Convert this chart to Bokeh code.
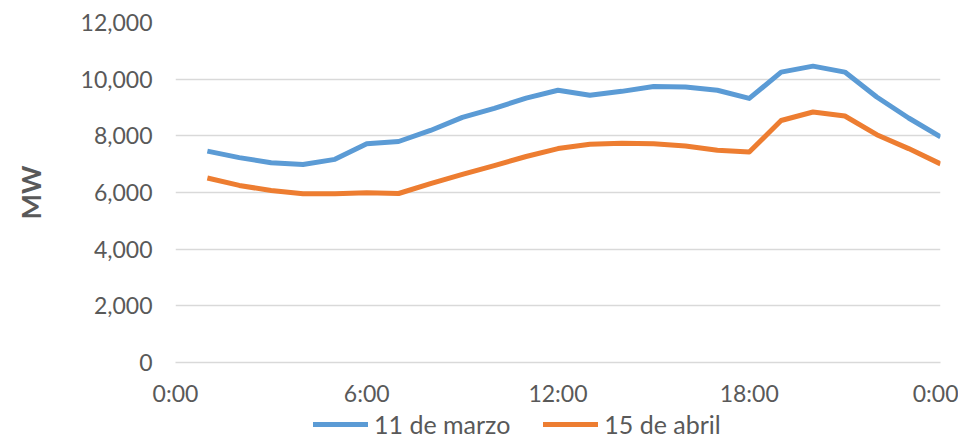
from bokeh.plotting import figure
from bokeh.layouts import column
from bokeh.models import (ColumnDataSource, FixedTicker, NumeralTickFormatter,
                          Legend, LegendItem, Range1d)
from bokeh.embed import file_html
from bokeh.resources import INLINE

hours = list(range(1, 25))
marzo_11 = [7460, 7230, 7050, 6990, 7170, 7720, 7800, 8190, 8650, 8970, 9330, 9610,
            9430, 9570, 9740, 9720, 9610, 9320, 10250, 10460, 10250, 9370, 8630, 7960]
abril_15 = [6510, 6250, 6070, 5955, 5955, 5990, 5965, 6310, 6640, 6950, 7270, 7550,
            7700, 7740, 7720, 7640, 7490, 7430, 8540, 8840, 8700, 8040, 7550, 7010]
x_ticks = [0, 6, 12, 18, 24]
x_tick_labels = ["0:00", "6:00", "12:00", "18:00", "0:00"]
y_ticks = [0, 2000, 4000, 6000, 8000, 10000, 12000]
series_names = ["11 de marzo", "15 de abril"]
colors = ["#5B9BD5", "#ED7D31"]

FONT = "Lato"
TXT = "#595959"

src = ColumnDataSource(dict(h=hours, a=marzo_11, b=abril_15))

p = figure(width=958, height=409, output_backend="svg", toolbar_location=None,
           x_range=Range1d(0, 24), y_range=Range1d(0, 12000),
           min_border_left=175, min_border_right=18, min_border_top=22,
           min_border_bottom=47)
p.outline_line_color = None
p.background_fill_color = "white"
p.border_fill_color = "white"

p.line("h", "a", source=src, line_color=colors[0], line_width=5, line_join="round")
p.line("h", "b", source=src, line_color=colors[1], line_width=5, line_join="round")

p.xgrid.visible = False
p.ygrid.grid_line_color = "#D9D9D9"
p.ygrid.grid_line_width = 1.5
p.ygrid.ticker = FixedTicker(ticks=y_ticks)

p.yaxis.ticker = FixedTicker(ticks=y_ticks)
p.yaxis.formatter = NumeralTickFormatter(format="0,0")
p.yaxis.axis_line_color = None
p.yaxis.major_tick_line_color = None
p.yaxis.minor_tick_line_color = None
p.yaxis.major_tick_out = 0
p.yaxis.major_label_standoff = 23
p.yaxis.major_label_text_font = FONT
p.yaxis.major_label_text_font_size = "23px"
p.yaxis.major_label_text_color = TXT
p.yaxis.axis_label = "MW"
p.yaxis.axis_label_text_font = FONT
p.yaxis.axis_label_text_font_style = "bold"
p.yaxis.axis_label_text_font_size = "27px"
p.yaxis.axis_label_text_color = TXT
p.yaxis.axis_label_standoff = 31

p.xaxis.ticker = FixedTicker(ticks=x_ticks)
p.xaxis.major_label_overrides = {t: l for t, l in zip(x_ticks, x_tick_labels)}
p.xaxis.axis_line_color = "#D9D9D9"
p.xaxis.axis_line_width = 1.5
p.xaxis.major_tick_line_color = None
p.xaxis.minor_tick_line_color = None
p.xaxis.major_tick_out = 0
p.xaxis.major_label_standoff = 16
p.xaxis.major_label_text_font = FONT
p.xaxis.major_label_text_font_size = "23px"
p.xaxis.major_label_text_color = TXT

# legend strip below the chart (its lines are out of view; only the legend shows)
lg = figure(width=958, height=30, output_backend="svg", toolbar_location=None,
            x_range=Range1d(0, 24), y_range=Range1d(50000, 60000),
            x_axis_type=None, y_axis_type=None,
            min_border_left=0, min_border_right=0, min_border_top=0,
            min_border_bottom=0)
lg.outline_line_color = None
lg.xgrid.visible = False
lg.ygrid.visible = False
l1 = lg.line("h", "a", source=src, line_color=colors[0], line_width=5, line_cap="round")
l2 = lg.line("h", "b", source=src, line_color=colors[1], line_width=5, line_cap="round")

legend = Legend(items=[LegendItem(label=series_names[0], renderers=[l1]),
                       LegendItem(label=series_names[1], renderers=[l2])],
                orientation="horizontal", location=(138, 0),
                glyph_width=55, glyph_height=20, label_height=20,
                label_standoff=6, spacing=33, padding=0, margin=0,
                border_line_color=None, background_fill_alpha=0,
                label_text_font=FONT, label_text_font_size="25px",
                label_text_color=TXT)
lg.add_layout(legend, "center")

layout = column(p, lg, spacing=0)
open("out.html", "w").write(file_html(layout, INLINE))
